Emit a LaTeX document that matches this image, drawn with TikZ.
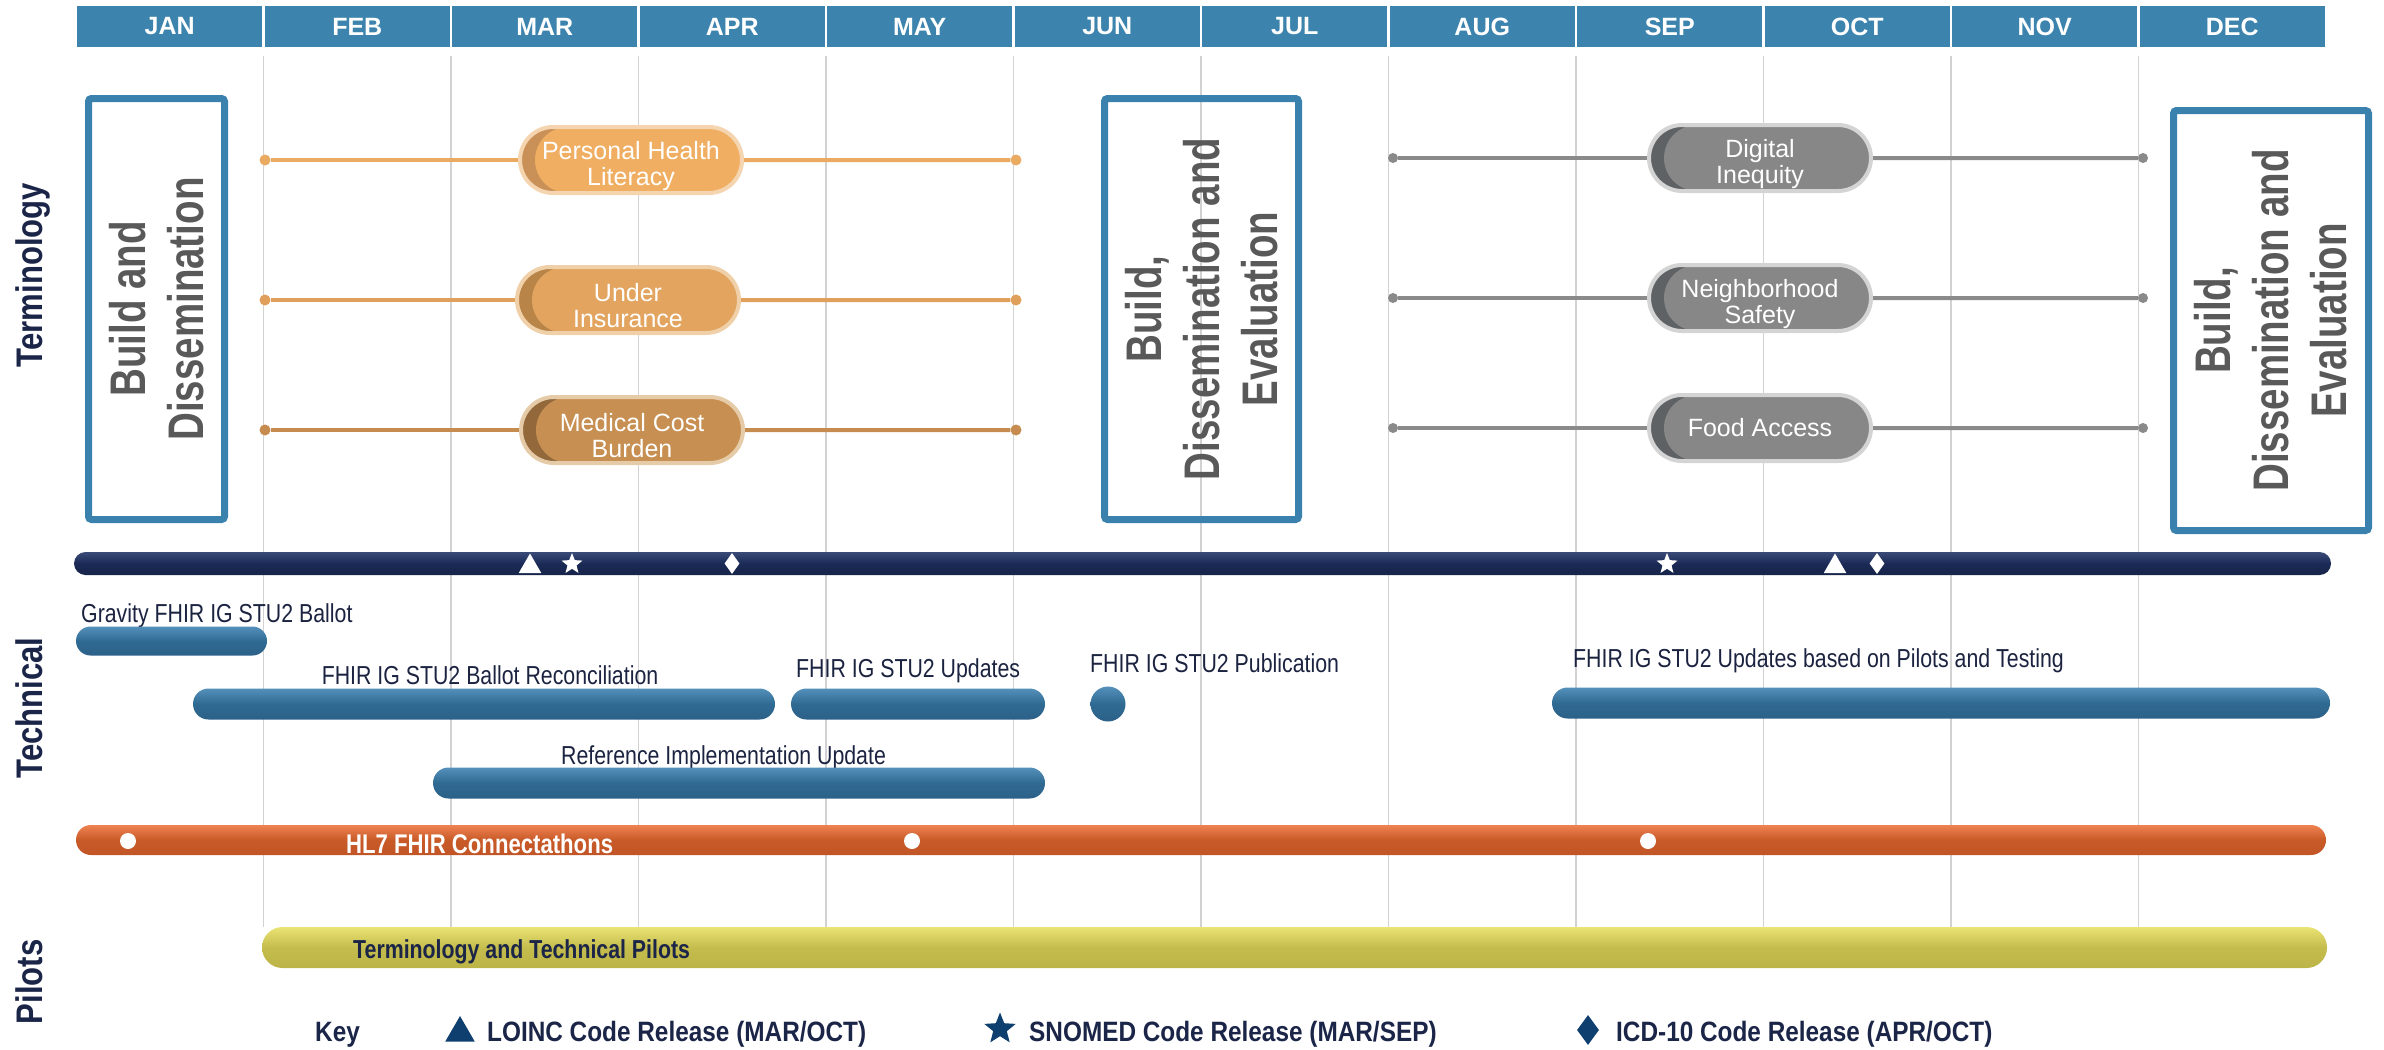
\documentclass[tikz,border=0pt]{standalone}
\usepackage{fontspec}
\setmainfont{Liberation Sans}
\newfontfamily\narrowfont[FakeStretch=0.82]{Liberation Sans}
\newfontfamily\boxfont[FakeStretch=0.77]{Liberation Sans}
\newfontfamily\secfont[FakeStretch=0.84]{Liberation Sans}
\newfontfamily\keyfont[FakeStretch=0.87]{Liberation Sans}
\usetikzlibrary{shapes.misc,shapes.geometric}

\definecolor{hdrblue}{HTML}{3C84AE}
\definecolor{gridgray}{HTML}{D2D2D2}
\definecolor{boxblue}{HTML}{3A82AD}
\definecolor{boxtext}{HTML}{595959}
\definecolor{navytext}{HTML}{1B2548}
\definecolor{labeltext}{HTML}{1B2340}
% terminology capsules: fill, left shade, outer ring
\definecolor{capA}{HTML}{F0AE62}\definecolor{capAd}{HTML}{C99157}\definecolor{capAr}{HTML}{F5D5B0}
\definecolor{capB}{HTML}{E2A45E}\definecolor{capBd}{HTML}{B98447}\definecolor{capBr}{HTML}{F0D0A8}
\definecolor{capC}{HTML}{C78F52}\definecolor{capCd}{HTML}{93683B}\definecolor{capCr}{HTML}{E6CBA8}
\definecolor{capG}{HTML}{878787}\definecolor{capGd}{HTML}{5E6264}\definecolor{capGr}{HTML}{D4D4D4}
\definecolor{lineA}{HTML}{EAAA62}
\definecolor{lineB}{HTML}{E0A05C}
\definecolor{lineC}{HTML}{C68B4F}
\definecolor{lineG}{HTML}{8A8A8A}
% bars
\definecolor{navyT}{HTML}{3A4B78}\definecolor{navyM}{HTML}{1B2A55}\definecolor{navyB}{HTML}{17244A}
\definecolor{blueT}{HTML}{5490BA}\definecolor{blueM}{HTML}{2F6A92}\definecolor{blueB}{HTML}{2C6189}
\definecolor{oranT}{HTML}{EE8250}\definecolor{oranM}{HTML}{C85A28}\definecolor{oranB}{HTML}{C25526}
\definecolor{yelT}{HTML}{EAE474}\definecolor{yelM}{HTML}{C4BC4C}\definecolor{yelB}{HTML}{BCB447}
\definecolor{keynavy}{HTML}{0E3F6E}

% invisible strut that lowers two-line capsule text
\newcommand{\capstrut}{\rule{0pt}{30pt}}

\begin{document}
\begin{tikzpicture}[x=1pt,y=-1pt,
  monthcell/.style={rectangle, fill=hdrblue, draw=white, line width=2.5pt,
    minimum width=187.5pt, minimum height=43pt, inner sep=0pt, text=white,
    font=\bfseries\fontsize{25}{28}\selectfont},
  gridln/.style={draw=gridgray, line width=1.5pt},
  bigbox/.style={rectangle, draw=boxblue, line width=7pt, rounded corners=3pt,
    rotate=90, align=center, text=boxtext, inner sep=0pt,
    font=\boxfont\bfseries\fontsize{50}{58}\selectfont},
  seclbl/.style={rotate=90, text=navytext, inner sep=0pt,
    font=\secfont\bfseries\fontsize{37}{40}\selectfont},
  endpt/.style={circle, fill=#1, inner sep=0pt, minimum size=11pt},
  tline/.style={draw=#1, line width=4pt},
  caps/.style n args={3}{shape=rounded rectangle, minimum width=222pt,
    minimum height=66pt, inner sep=0pt, fill=#1, draw=#3, line width=4pt,
    text=white, align=center, font=\fontsize{25}{26}\selectfont,
    path picture={
      \fill[#2] (path picture bounding box.south west) rectangle
        (path picture bounding box.north east);
      \fill[#1, rounded corners=33pt] ([xshift=15pt]path picture bounding box.south west)
        rectangle ([xshift=90pt]path picture bounding box.north east);
    }},
  bar/.style n args={3}{shape=rounded rectangle, inner sep=0pt,
    top color=#1, bottom color=#3, middle color=#2},
  bluebar/.style={bar={blueT}{blueM}{blueB}, minimum height=31pt},
  techlbl/.style={inner sep=0pt, text=labeltext,
    font=\narrowfont\fontsize{26}{30}\selectfont},
  wtri/.style={regular polygon, regular polygon sides=3, inner sep=0pt,
    minimum size=26pt, fill=white},
  wstar/.style={star, star points=5, star point ratio=2.3, inner sep=0pt,
    minimum size=22pt, fill=white},
  wdiam/.style={diamond, inner sep=0pt, minimum width=15pt, minimum height=21pt, fill=white},
  keylbl/.style={inner sep=0pt, text=navytext,
    font=\keyfont\bfseries\fontsize{28}{32}\selectfont},
]
\useasboundingbox (0,0) rectangle (2384,1049);

% month header
\foreach \m [count=\i from 0] in {JAN,FEB,MAR,APR,MAY,JUN,JUL,AUG,SEP,OCT,NOV,DEC}
  \node[monthcell] (m\i) at ({76+187.5*\i+93.75},26.5) {\m};

% month grid
\foreach \i in {1,...,11}
  \draw[gridln] ({76+187.5*\i},56) -- ({76+187.5*\i},927);

% section labels
\node[seclbl] (secterm) at (33,275) {Terminology};
\node[seclbl] (sectech) at (29,708) {Technical};
\node[seclbl] (secpil) at (29,982) {Pilots};

% build / dissemination boxes
\node[bigbox, minimum width=421pt, minimum height=136pt] (box1) at (156.5,309)
  {Build and\\Dissemination};
\node[bigbox, minimum width=421pt, minimum height=194pt] (box2) at (1201.5,309)
  {Build,\\Dissemination and\\Evaluation};
\node[bigbox, minimum width=420pt, minimum height=195pt] (box3) at (2271,320.5)
  {Build,\\Dissemination and\\Evaluation};

% terminology topics, first half of the year
\node[caps={capA}{capAd}{capAr}] (phl) at (631,160) {\capstrut Personal Health\\Literacy};
\node[caps={capB}{capBd}{capBr}] (uins) at (628,300) {\capstrut Under\\Insurance};
\node[caps={capC}{capCd}{capCr}] (mcb) at (632,430) {\capstrut Medical Cost\\Burden};

\node[endpt=lineA] (a1) at (265,160) {};
\node[endpt=lineA] (a2) at (1016,160) {};
\node[endpt=lineB] (b1) at (265,300) {};
\node[endpt=lineB] (b2) at (1016,300) {};
\node[endpt=lineC] (c1) at (265,430) {};
\node[endpt=lineC] (c2) at (1016,430) {};
\draw[tline=lineA] (a1) -- (phl);  \draw[tline=lineA] (phl) -- (a2);
\draw[tline=lineB] (b1) -- (uins); \draw[tline=lineB] (uins) -- (b2);
\draw[tline=lineC] (c1) -- (mcb);  \draw[tline=lineC] (mcb) -- (c2);

% terminology topics, second half of the year
\node[caps={capG}{capGd}{capGr}] (dig) at (1760,158) {\capstrut Digital\\Inequity};
\node[caps={capG}{capGd}{capGr}] (nbh) at (1760,298) {\capstrut Neighborhood\\Safety};
\node[caps={capG}{capGd}{capGr}] (food) at (1760,428) {Food Access};

\node[endpt=lineG, minimum size=10pt] (d1) at (1393,158) {};
\node[endpt=lineG, minimum size=10pt] (d2) at (2143,158) {};
\node[endpt=lineG, minimum size=10pt] (n1) at (1393,298) {};
\node[endpt=lineG, minimum size=10pt] (n2) at (2143,298) {};
\node[endpt=lineG, minimum size=10pt] (f1) at (1393,428) {};
\node[endpt=lineG, minimum size=10pt] (f2) at (2143,428) {};
\draw[tline=lineG] (d1) -- (dig);  \draw[tline=lineG] (dig) -- (d2);
\draw[tline=lineG] (n1) -- (nbh);  \draw[tline=lineG] (nbh) -- (n2);
\draw[tline=lineG] (f1) -- (food); \draw[tline=lineG] (food) -- (f2);

% code release timeline
\node[bar={navyT}{navyM}{navyB}, minimum width=2257pt, minimum height=23pt] (navy) at (1202.5,563.5) {};
\node[wtri]  (r1) at (530,566.5) {};
\node[wstar] (r2) at (572,564) {};
\node[wdiam] (r3) at (732,563.5) {};
\node[wstar] (r4) at (1667,564) {};
\node[wtri]  (r5) at (1835,566.5) {};
\node[wdiam] (r6) at (1877,563.5) {};

% technical work items
\node[techlbl, anchor=base west] (lgrav) at (81,622) {Gravity FHIR IG STU2 Ballot};
\node[bluebar, minimum width=191pt, minimum height=29pt] (bgrav) at (171.5,641) {};

\node[techlbl, anchor=base] (lrec) at (490,684) {FHIR IG STU2 Ballot Reconciliation};
\node[bluebar, minimum width=582pt] (brec) at (484,704) {};

\node[techlbl, anchor=base west] (lupd) at (796,677) {FHIR IG STU2 Updates};
\node[bluebar, minimum width=254pt] (bupd) at (918,704) {};

\node[techlbl, anchor=base west] (lpub) at (1090,672) {FHIR IG STU2 Publication};
\node[circle, inner sep=0pt, minimum size=35pt, top color=blueT, bottom color=blueB, middle color=blueM] (bpub) at (1108,704) {};

\node[techlbl, anchor=base west] (lpil) at (1573,667) {FHIR IG STU2 Updates based on Pilots and Testing};
\node[bluebar, minimum width=778pt] (bpil) at (1941,703) {};

\node[techlbl, anchor=base west] (lref) at (561,764) {Reference Implementation Update};
\node[bluebar, minimum width=612pt] (bref) at (739,783) {};

% connectathons
\node[bar={oranT}{oranM}{oranB}, minimum width=2250pt, minimum height=30pt] (hl7) at (1201,840) {};
\node[circle, fill=white, inner sep=0pt, minimum size=16pt] (h1) at (128,841) {};
\node[circle, fill=white, inner sep=0pt, minimum size=16pt] (h2) at (912,841) {};
\node[circle, fill=white, inner sep=0pt, minimum size=16pt] (h3) at (1648,841) {};
\node[inner sep=0pt, anchor=base west, text=white,
  font=\narrowfont\bfseries\fontsize{27}{30}\selectfont] (lhl7) at (346,853) {HL7 FHIR Connectathons};

% pilots
\node[bar={yelT}{yelM}{yelB}, minimum width=2065pt, minimum height=41pt] (pil) at (1294.5,947.5) {};
\node[inner sep=0pt, anchor=base west, text=navytext,
  font=\narrowfont\bfseries\fontsize{26}{30}\selectfont] (lpilots) at (353,958) {Terminology and Technical Pilots};

% key
\node[keylbl, anchor=base west] (kkey) at (315,1041) {Key};
\node[regular polygon, regular polygon sides=3, inner sep=0pt, minimum size=34pt, fill=keynavy] (ktri) at (460,1033) {};
\node[keylbl, anchor=base west] (kloinc) at (487,1041) {LOINC Code Release (MAR/OCT)};
\node[star, star points=5, star point ratio=2.3, inner sep=0pt, minimum size=33pt, fill=keynavy] (kstar) at (1000,1029) {};
\node[keylbl, anchor=base west] (ksno) at (1029,1041) {SNOMED Code Release (MAR/SEP)};
\node[diamond, inner sep=0pt, minimum width=22pt, minimum height=30pt, fill=keynavy] (kdiam) at (1588,1030) {};
\node[keylbl, anchor=base west] (kicd) at (1616,1041) {ICD-10 Code Release (APR/OCT)};
\end{tikzpicture}
\end{document}
